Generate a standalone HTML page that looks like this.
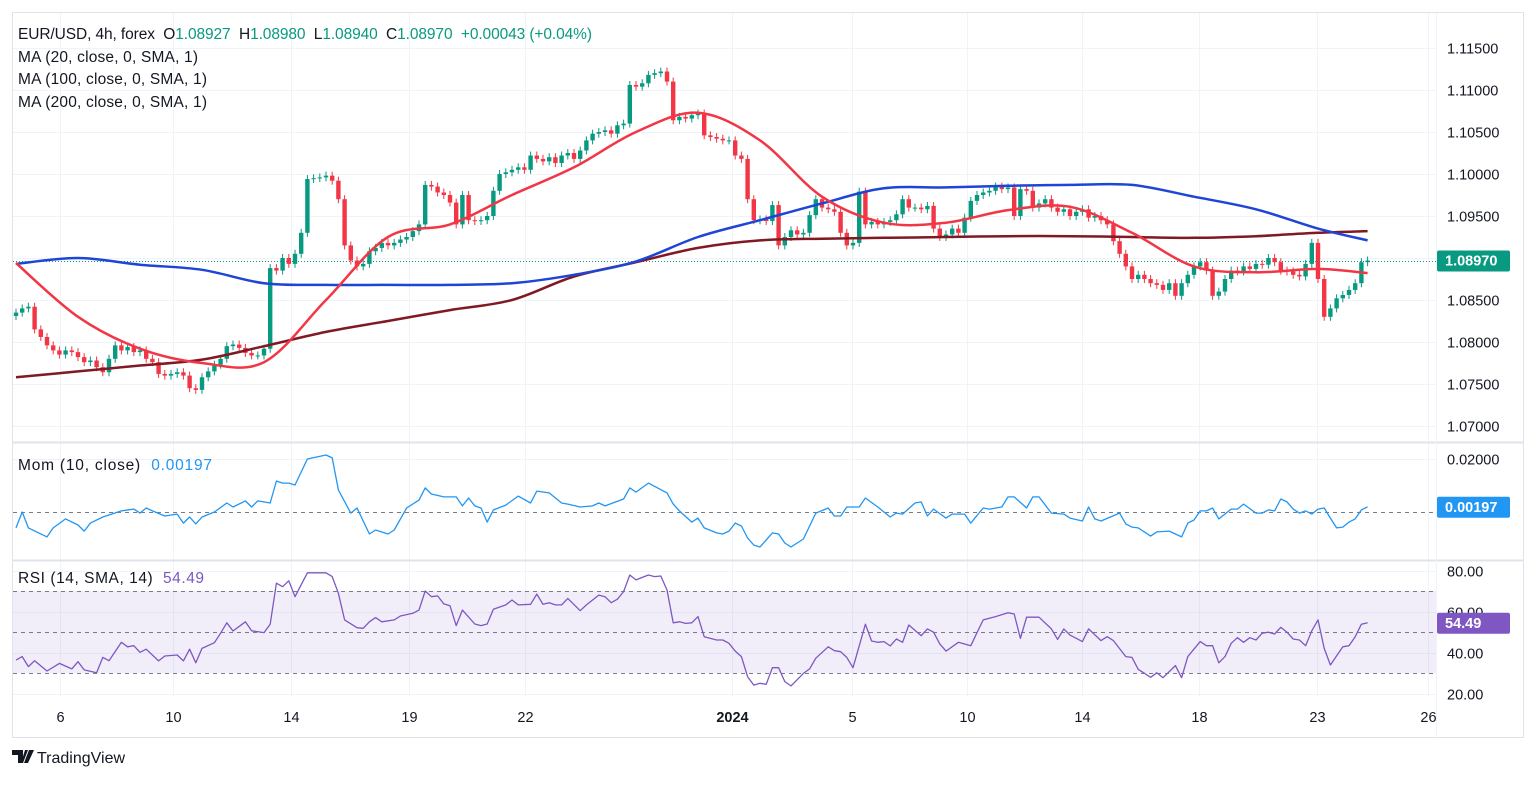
<!DOCTYPE html>
<html><head><meta charset="utf-8"><style>
body{margin:0;background:#fff;width:1536px;height:780px;overflow:hidden;font-family:"Liberation Sans",sans-serif}
svg text{font-family:"Liberation Sans",sans-serif}
</style></head><body>
<svg id="chart" width="1536" height="780" viewBox="0 0 1536 780" xmlns="http://www.w3.org/2000/svg">
<defs><clipPath id="cm"><rect x="13" y="13" width="1423" height="429"/></clipPath>
<clipPath id="cmo"><rect x="13" y="443" width="1423" height="117"/></clipPath>
<clipPath id="cr"><rect x="13" y="561" width="1423" height="136"/></clipPath></defs>
<rect x="12.5" y="12.5" width="1511" height="725" fill="#fff" stroke="#e0e3eb"/>
<g id="grid"></g>
<rect x="13" y="591" width="1423" height="82" fill="#7e57c2" fill-opacity="0.1"/>
<line x1="13" x2="1523" y1="442.5" y2="442.5" stroke="#e0e3eb" stroke-width="2"/>
<line x1="13" x2="1523" y1="560.5" y2="560.5" stroke="#e0e3eb" stroke-width="2"/>
<line x1="1436.5" x2="1436.5" y1="13" y2="737" stroke="#f0f3fa"/>
<g id="main" clip-path="url(#cm)"></g>
<g id="momg" clip-path="url(#cmo)"></g>
<g id="rsig" clip-path="url(#cr)"></g>
<g id="axes"></g>
<g font-size="15.5" fill="#131722">
<text x="18" y="39" textLength="574" lengthAdjust="spacing" xml:space="preserve">EUR/USD, 4h, forex  O<tspan fill="#089981">1.08927</tspan>  H<tspan fill="#089981">1.08980</tspan>  L<tspan fill="#089981">1.08940</tspan>  C<tspan fill="#089981">1.08970</tspan>  <tspan fill="#089981">+0.00043 (+0.04%)</tspan></text>
<text x="18" y="62" textLength="180" lengthAdjust="spacing">MA (20, close, 0, SMA, 1)</text>
<text x="18" y="84" textLength="189" lengthAdjust="spacing">MA (100, close, 0, SMA, 1)</text>
<text x="18" y="107" textLength="189" lengthAdjust="spacing">MA (200, close, 0, SMA, 1)</text>
<text x="18" y="470" textLength="194" lengthAdjust="spacing" xml:space="preserve">Mom (10, close)  <tspan fill="#2196f3">0.00197</tspan></text>
<text x="18" y="583" textLength="186" lengthAdjust="spacing" xml:space="preserve">RSI (14, SMA, 14)  <tspan fill="#7e57c2">54.49</tspan></text>
</g>
<g>
<path d="M12 750h11v13h-5v-8h-6z M25 750h3l-5 13h-2z M29 750h5l-6 13h-4z" fill="#131722"/>
<text x="37" y="763" font-size="16" fill="#131722">TradingView</text>
</g>
</svg>
<script>
const closes=[1.0835,1.0840,1.0842,1.0815,1.0806,1.0796,1.0790,1.0785,1.0790,1.0788,
1.0782,1.0776,1.0778,1.0770,1.0764,1.0780,1.0796,1.0790,1.0794,1.0788,
1.0790,1.0780,1.0776,1.0762,1.0760,1.0762,1.0764,1.0760,1.0745,1.0743,
1.0758,1.0765,1.0773,1.0780,1.0795,1.0797,1.0793,1.0787,1.0784,1.0784,
1.0792,1.0888,1.0885,1.0900,1.0893,1.0905,1.0930,1.0994,1.0995,1.0996,
1.0998,1.0992,1.0970,1.0915,1.0897,1.0890,1.0893,1.0908,1.0912,1.0918,
1.0915,1.0918,1.0922,1.0925,1.0932,1.0940,1.0987,1.0985,1.0978,1.0975,
1.0966,1.0940,1.0975,1.0945,1.0944,1.0945,1.0950,1.0980,1.1000,1.1002,
1.1005,1.1008,1.1005,1.1022,1.1018,1.1015,1.1020,1.1013,1.1022,1.1025,
1.1018,1.1028,1.1040,1.1048,1.1050,1.1052,1.1048,1.1058,1.1060,1.1106,
1.1104,1.1108,1.1118,1.1120,1.1122,1.1110,1.1064,1.1068,1.1066,1.1070,
1.1072,1.1046,1.1044,1.1042,1.1040,1.1040,1.1022,1.1018,1.0970,1.0945,
1.0946,1.0944,1.0963,1.0915,1.0925,1.0933,1.0928,1.0930,1.0951,1.0970,
1.0960,1.0958,1.0955,1.0930,1.0915,1.0918,1.0979,1.0940,1.0943,1.0940,
1.0943,1.0945,1.0952,1.0970,1.0960,1.0960,1.0958,1.0962,1.0935,1.0925,
1.0928,1.0935,1.0930,1.0948,1.0968,1.0975,1.0978,1.0980,1.0985,1.0982,
1.0984,1.0950,1.0982,1.0980,1.0960,1.0965,1.0970,1.0960,1.0955,1.0958,
1.0950,1.0955,1.0958,1.0948,1.0950,1.0945,1.0940,1.0920,1.0905,1.0890,
1.0875,1.0880,1.0875,1.0870,1.0868,1.0862,1.0870,1.0855,1.0870,1.0880,
1.0890,1.0895,1.0885,1.0855,1.0860,1.0875,1.0885,1.0884,1.0890,1.0887,
1.0893,1.0892,1.0900,1.0895,1.0885,1.0884,1.0880,1.0878,1.0893,1.0918,
1.0875,1.0830,1.0840,1.0852,1.0856,1.0862,1.0870,1.0895,1.0897];
const maIdx=[0,10,20,30,40,50,60,70,80,90,100,110,120,130,140,150,160,170,180,190,200,210,218];
const ma20=[1.0894,1.0830,1.0792,1.0775,1.0776,1.0850,1.0925,1.0940,1.0975,1.1008,1.1050,1.1073,1.1040,1.0973,1.0942,1.0942,1.0957,1.0961,1.0930,1.0890,1.0883,1.0887,1.0882];
const ma100=[1.0893,1.0900,1.0892,1.0886,1.0870,1.0868,1.0868,1.0868,1.0870,1.0880,1.0896,1.0925,1.0945,1.0965,1.0983,1.0984,1.0986,1.0987,1.0987,1.0973,1.0958,1.0935,1.0921];
const ma200=[1.0758,1.0765,1.0772,1.0779,1.0795,1.0812,1.0825,1.0838,1.0850,1.0878,1.0895,1.0912,1.0921,1.0923,1.0924,1.0925,1.0926,1.0926,1.0925,1.0924,1.0926,1.0930,1.0932];
const momIdx=[0,1,2,5,6,8,10,11,12,14,17,19,20,21,22,24,26,27,28,29,30,32,34,35,37,38,39,41,42,43,44,45,47,50,51,52,54,55,57,58,60,61,63,65,66,67,69,71,72,73,74,75,76,77,79,81,83,84,86,88,89,91,93,94,95,98,99,100,102,105,106,107,109,110,111,113,114,115,116,117,118,119,120,122,123,124,125,127,129,131,132,133,134,136,137,139,140,141,142,143,145,146,147,148,150,151,153,154,156,157,159,160,161,163,164,165,167,169,170,172,173,174,175,178,179,180,181,183,184,186,188,189,190,191,192,193,194,196,197,198,200,201,202,203,204,205,206,207,208,209,210,211,212,213,214,215,216,217,218];
const momVals=[-0.0060,0,-0.0060,-0.0094,-0.0060,-0.0026,-0.0049,-0.0072,-0.0042,-0.0019,0.0004,0.0011,-0.0004,0.0015,0.0004,-0.0015,-0.0008,-0.0042,-0.0019,-0.0045,-0.0019,0,0.0034,0.0019,0.0042,0.0019,0.0042,0.0034,0.0117,0.0109,0.0109,0.0102,0.0200,0.0215,0.0204,0.0083,-0.0004,0.0015,-0.0083,-0.0068,-0.0083,-0.0068,0.0015,0.0045,0.0091,0.0068,0.0057,0.0057,0.0023,0.0053,0.0023,0.0015,-0.0038,0.0008,0.0026,0.0060,0.0034,0.0079,0.0072,0.0034,0.0030,0.0019,0.0023,0.0034,0.0023,0.0049,0.0091,0.0075,0.0109,0.0072,0.0030,0.0004,-0.0038,-0.0023,-0.0060,-0.0079,-0.0083,-0.0072,-0.0042,-0.0053,-0.0098,-0.0125,-0.0132,-0.0079,-0.0083,-0.0117,-0.0132,-0.0102,-0.0004,0.0015,-0.0015,-0.0015,0.0019,0.0019,0.0053,0.0019,0,-0.0019,-0.0004,-0.0008,0.0034,0.0038,-0.0015,0.0011,-0.0023,-0.0008,-0.0008,-0.0042,0.0015,0.0011,0.0019,0.0057,0.0057,0.0015,0.0057,0.0057,-0.0004,-0.0008,-0.0023,-0.0034,0.0019,-0.0026,-0.0034,-0.0004,-0.0045,-0.0057,-0.0060,-0.0091,-0.0075,-0.0072,-0.0094,-0.0042,-0.0030,0.0004,0.0004,0.0015,-0.0026,0.0011,0.0011,0.0030,-0.0004,-0.0004,0.0008,0.0004,0.0049,0.0038,0.0011,-0.0004,0.0004,-0.0008,0.0011,0.0015,-0.0023,-0.0060,-0.0057,-0.0038,-0.0026,0.0008,0.00197];
const rsiIdx=[0,1,2,3,5,7,9,10,11,13,14,15,17,18,19,20,21,23,24,26,27,28,29,30,32,33,34,35,37,38,40,41,42,43,44,45,47,50,51,52,53,55,56,57,58,59,61,62,64,65,66,67,68,69,70,71,72,74,75,76,77,79,80,81,83,84,85,86,87,88,89,91,92,94,95,96,97,98,99,100,102,103,104,105,106,107,108,109,110,111,113,114,115,116,117,118,119,120,121,122,123,124,125,127,128,129,131,132,133,134,135,137,138,139,140,141,142,143,144,146,147,148,149,150,152,154,155,156,158,160,161,162,163,165,167,168,169,170,172,173,175,176,177,179,180,181,183,184,185,187,188,189,191,192,193,194,195,196,197,198,199,200,201,202,203,204,205,206,207,208,209,210,211,212,214,215,216,217,218];
const rsiVals=[36.3,38.0,33.1,36.0,31.0,34.7,32.0,35.5,31.5,30.1,37.6,36.0,45.0,42.8,43.3,40.1,41.6,35.9,38.3,38.8,35.9,41.6,35.0,42.0,44.8,49.4,54.5,50.5,55.0,50.6,49.7,53.8,73.8,72.1,75.0,67.2,78.9,78.9,77.0,68.9,55.9,52.1,51.8,55.0,57.0,55.0,55.9,57.8,59.1,60.7,70.0,67.2,67.6,63.7,62.8,53.1,60.7,53.9,53.1,53.9,61.1,63.2,65.6,63.2,63.5,68.5,63.5,64.3,63.2,63.2,66.4,60.4,63.2,68.0,67.2,64.3,66.0,69.7,77.8,75.4,77.8,77.0,77.3,70.5,54.5,55.0,54.2,54.5,57.5,47.7,46.1,46.1,44.5,40.7,38.0,28.2,24.1,25.0,24.5,32.6,32.6,25.8,23.7,29.8,32.0,37.2,42.8,40.9,40.4,37.6,32.6,53.8,45.6,45.0,45.3,43.2,46.6,45.0,53.4,48.2,51.5,49.9,44.2,40.7,45.0,43.3,49.7,55.9,57.5,59.4,58.8,46.9,57.2,57.2,51.5,46.4,51.5,48.5,45.3,51.5,45.8,47.7,45.8,38.0,37.6,31.8,27.9,30.1,27.7,33.6,27.7,38.0,45.3,43.3,43.3,35.0,38.0,44.5,47.2,45.0,47.2,46.1,49.4,49.9,49.0,52.3,49.9,46.6,46.1,43.3,50.6,55.9,42.0,33.9,42.8,43.3,47.7,53.8,54.49];
const priceTicks=[1.115,1.110,1.105,1.100,1.095,1.090,1.085,1.080,1.075,1.070];
const momTicks=[0.02];
const rsiTicks=[80,60,40,20];
const dateLabels=["6","10","14","19","22","2024","5","10","14","18","23","26"];
const dateIdx=[7.1,25.3,44.4,63.4,82.1,115.5,134.8,153.4,171.9,190.8,209.8,227.7];
const lastPrice=1.0897, lastMom=0.00197, lastRsi=54.49;

const NS="http://www.w3.org/2000/svg";
const xOf=i=>16+6.2*i;
const yP=p=>48+(1.115-p)*8400;
const yM=m=>512-m*2650;
const yR=r=>591-(r-70)*2.05;
function mk(tag,attrs,parent){const e=document.createElementNS(NS,tag);for(const k in attrs)e.setAttribute(k,attrs[k]);parent.appendChild(e);return e;}
const grid=document.getElementById('grid'),main=document.getElementById('main'),momg=document.getElementById('momg'),rsig=document.getElementById('rsig'),axes=document.getElementById('axes');
dateIdx.forEach((d,k)=>{const x=Math.round(xOf(d))+0.5;
 const l=mk('line',{x1:x,x2:x,y1:13,y2:697,stroke:'#f0f3fa'},grid);
 
 
 const t=mk('text',{x:x,y:722,'font-size':14.5,'text-anchor':'middle',fill:'#131722','font-weight':dateLabels[k]==='2024'?'bold':'normal'},axes);
 t.textContent=dateLabels[k];
 
 
});
priceTicks.forEach(p=>{const y=Math.round(yP(p))+0.5;
 const l=mk('line',{x1:13,x2:1436,y1:y,y2:y,stroke:'#f0f3fa'},grid);
 
 
 const t=mk('text',{x:1447,y:y+5,'font-size':14.5,fill:'#131722'},axes);
 t.textContent=p.toFixed(5);
 
 
});
momTicks.forEach(m=>{const y=Math.round(yM(m))+0.5;
 const l=mk('line',{x1:13,x2:1436,y1:y,y2:y,stroke:'#f0f3fa'},grid);
 
 
 const t=mk('text',{x:1447,y:y+5,'font-size':14.5,fill:'#131722'},axes);
 t.textContent=m.toFixed(5);
 
 
});
rsiTicks.forEach(r=>{const y=Math.round(yR(r))+0.5;
 const l=mk('line',{x1:13,x2:1436,y1:y,y2:y,stroke:'#f0f3fa'},grid);
 
 
 const t=mk('text',{x:1447,y:y+5,'font-size':14.5,fill:'#131722'},axes);
 t.textContent=r.toFixed(2);
 
 
});
[[yM(0),'mom-zero-line',momg],[yR(70),'rsi-upper-band',rsig],[yR(50),'rsi-middle-band',rsig],[yR(30),'rsi-lower-band',rsig]].forEach(a=>{
 const y=Math.round(a[0])+0.5;
 const l=mk('line',{x1:13,x2:1436,y1:y,y2:y,stroke:'#787b86','stroke-dasharray':'4 4'},a[2]);
 
 
});
{const y=Math.round(yP(lastPrice))+0.5;
 const l=mk('line',{x1:13,x2:1436,y1:y,y2:y,stroke:'#089981','stroke-dasharray':'1 2'},main);
 
 }
closes.forEach((c,i)=>{
 const o=i===0?c-0.0004:closes[i-1];
 const up=c>=o, col=up?'#089981':'#f23645';
 const x=xOf(i), yt=yP(Math.max(o,c)), yb=yP(Math.min(o,c));
 const g=mk('g',{},main);
 
 
 mk('line',{x1:x,x2:x,y1:yt-4,y2:yb+4,stroke:col,'stroke-width':1},g);
 mk('rect',{x:x-2.2,y:yt,width:4.4,height:Math.max(1,yb-yt),fill:col},g);
});
function line(idx,vals,yf,par,col,w,name){
 const d=idx.map((i,k)=>(k?'L':'M')+xOf(i).toFixed(1)+' '+yf(vals[k]).toFixed(1)).join(' ');
 const p=mk('path',{d:d,fill:'none',stroke:col,'stroke-width':w,'stroke-linejoin':'round'},par);
 
 
}
function smooth(idx,vals,yf,par,col,w,name){
 const P=idx.map((i,k)=>[xOf(i),yf(vals[k])]);
 let d='M'+P[0][0].toFixed(1)+' '+P[0][1].toFixed(1);
 for(let k=0;k<P.length-1;k++){
  const p0=P[Math.max(0,k-1)],p1=P[k],p2=P[k+1],p3=P[Math.min(P.length-1,k+2)];
  const c1=[p1[0]+(p2[0]-p0[0])/6,p1[1]+(p2[1]-p0[1])/6];
  const c2=[p2[0]-(p3[0]-p1[0])/6,p2[1]-(p3[1]-p1[1])/6];
  d+=' C'+c1[0].toFixed(1)+' '+c1[1].toFixed(1)+' '+c2[0].toFixed(1)+' '+c2[1].toFixed(1)+' '+p2[0].toFixed(1)+' '+p2[1].toFixed(1);
 }
 const p=mk('path',{d:d,fill:'none',stroke:col,'stroke-width':w,'stroke-linejoin':'round'},par);
 
 
}
smooth(maIdx,ma200,yP,main,'#801922',2.5,'ma200-line');
smooth(maIdx,ma100,yP,main,'#1e45d6',2.5,'ma100-line');
smooth(maIdx,ma20,yP,main,'#f23645',2.5,'ma20-line');
line(momIdx,momVals,yM,momg,'#2196f3',1.3,'momentum-line');
line(rsiIdx,rsiVals,yR,rsig,'#7e57c2',1.3,'rsi-line');
function badge(y,txt,col,name){
 const g=mk('g',{},axes);
 
 
 mk('rect',{x:1437,y:y-10,width:73,height:21,fill:col,rx:2},g);
 const t=mk('text',{x:1445,y:y+5,'font-size':14.5,fill:'#fff','font-weight':'bold'},g);
 t.textContent=txt;
}
badge(yP(lastPrice),lastPrice.toFixed(5),'#089981','last-price-badge');
badge(yM(lastMom),lastMom.toFixed(5),'#2196f3','mom-value-badge');
badge(yR(lastRsi),lastRsi.toFixed(2),'#7e57c2','rsi-value-badge');
</script>
</body></html>
